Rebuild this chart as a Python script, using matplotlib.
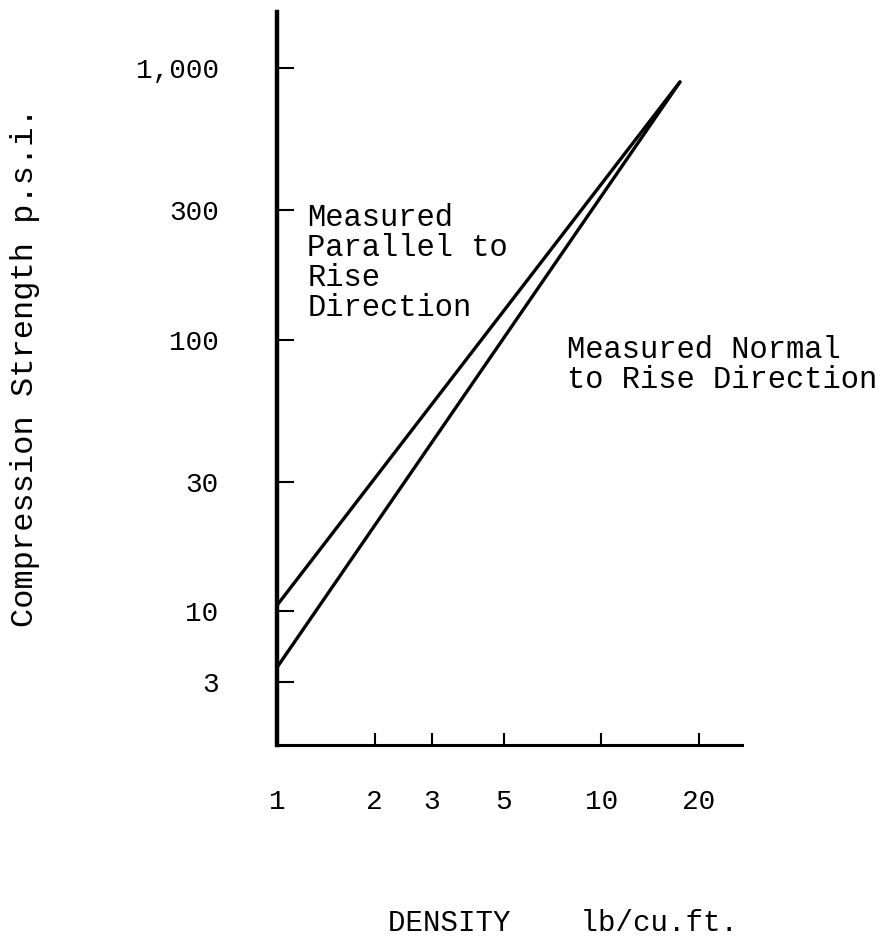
import numpy as np
import matplotlib.pyplot as plt
from matplotlib.ticker import FixedLocator, FixedFormatter, NullLocator

plt.rcParams['font.family'] = ['Liberation Mono', 'DejaVu Sans Mono']

# data (log-log chart)
density = [1.0, 17.5]                 # lb/cu.ft.
parallel_strength = [10.5, 890]       # p.s.i., measured parallel to rise
normal_strength = [6.2, 890]          # p.s.i., measured normal to rise

x_ticks = [1, 2, 3, 5, 10, 20]
x_tick_labels = ["1", "2", "3", "5", "10", "20"]
# the scan's lowest tick sits off the log grid, labelled "3"
y_ticks = [1000, 300, 100, 30, 10, 5.5]
y_tick_labels = ["1,000", "300", "100", "30", "10", "3"]

fig = plt.figure(figsize=(8.93, 9.46), dpi=100)
ax = fig.add_axes([277/893, 1 - 745/946, (742-277)/893, (745-12)/946])

ax.plot(density, parallel_strength, color="black", lw=2.4, solid_capstyle="round")
ax.plot(density, normal_strength, color="black", lw=2.4, solid_capstyle="round")

ax.set_xscale("log")
ax.set_yscale("log")
ax.set_xlim(1.0, 27.2)
ax.set_ylim(3.21, 1612)

ax.xaxis.set_major_locator(FixedLocator(x_ticks))
ax.xaxis.set_major_formatter(FixedFormatter(x_tick_labels))
ax.yaxis.set_major_locator(FixedLocator(y_ticks))
ax.yaxis.set_major_formatter(FixedFormatter(y_tick_labels))
ax.xaxis.set_minor_locator(NullLocator())
ax.yaxis.set_minor_locator(NullLocator())

for s in ["top", "right"]:
    ax.spines[s].set_visible(False)
ax.spines["left"].set_linewidth(3.2)
ax.spines["bottom"].set_linewidth(2.2)

ax.tick_params(axis="y", direction="in", length=12, width=1.5, pad=42, labelsize=20)
ax.tick_params(axis="x", direction="in", length=9, width=1.5, pad=32, labelsize=20)

ax.text(1.24, 320, "Measured\nParallel to\nRise\nDirection", fontsize=22,
        va="top", ha="left", linespacing=1.0)
ax.text(7.87, 104, "Measured Normal\nto Rise Direction", fontsize=22,
        va="top", ha="left", linespacing=1.0)

fig.text(25/893, 1 - 367/946, "Compression Strength p.s.i.", rotation=90,
         fontsize=23, ha="center", va="center")
fig.text(563/893, 1 - 923/946, "DENSITY    lb/cu.ft.", fontsize=21,
         ha="center", va="center")

fig.savefig("out.png", dpi=100)
